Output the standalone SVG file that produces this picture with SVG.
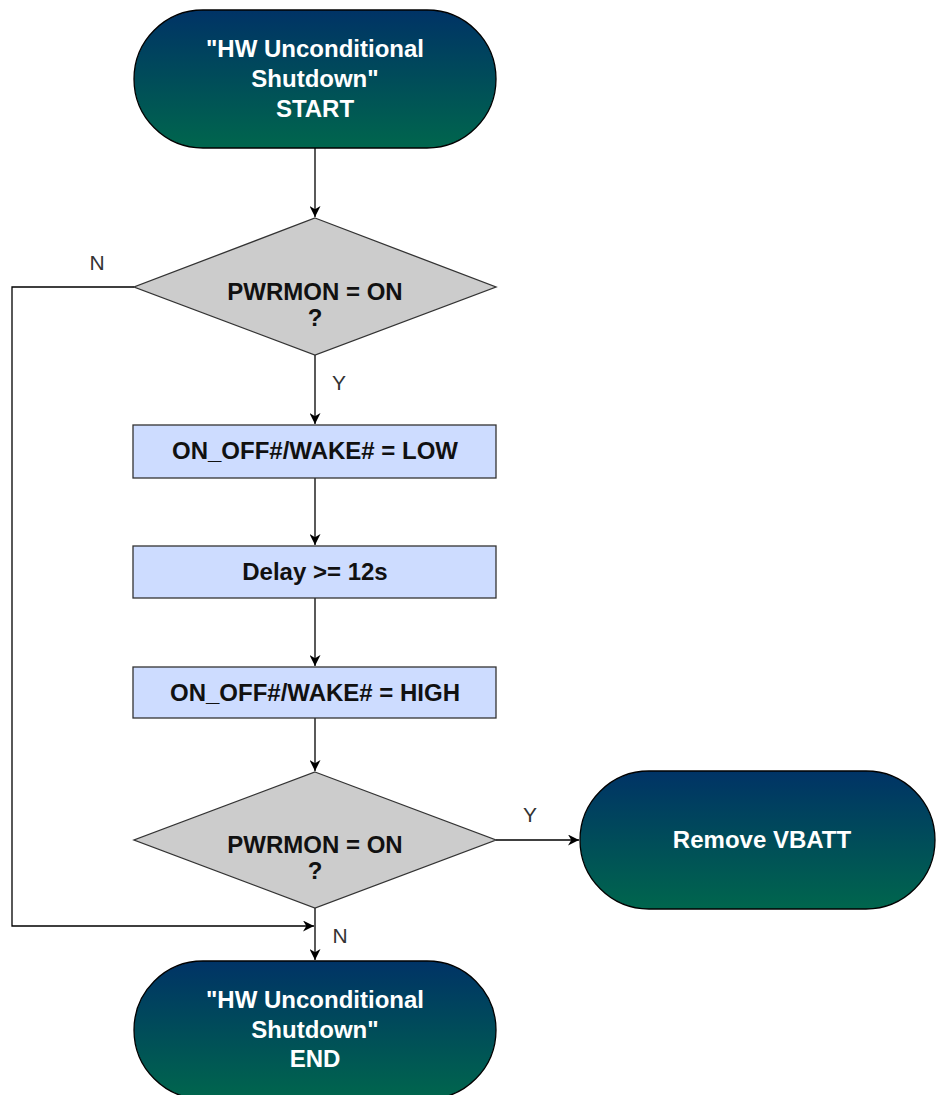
<svg xmlns="http://www.w3.org/2000/svg" width="936" height="1095" viewBox="0 0 936 1095">
<defs>
<linearGradient id="g" x1="0" y1="0" x2="0" y2="1">
<stop offset="0" stop-color="#003366"/>
<stop offset="1" stop-color="#00664d"/>
</linearGradient>
<marker id="arr" viewBox="0 0 10 10" refX="10" refY="5" markerWidth="11" markerHeight="11" markerUnits="userSpaceOnUse" orient="auto">
<path d="M0,0 L10,5 L0,10 L3,5 Z" fill="#000"/>
</marker>
<style>
.term{fill:url(#g);stroke:#000;stroke-width:1.3}
.dec{fill:#cccccc;stroke:#333;stroke-width:1.3}
.proc{fill:#cddcff;stroke:#333;stroke-width:1.3}
.wt{font-family:"Liberation Sans",Arial,sans-serif;font-weight:bold;font-size:24px;fill:#fff;text-anchor:middle}
.bt{font-family:"Liberation Sans",Arial,sans-serif;font-weight:bold;font-size:24px;fill:#111;text-anchor:middle}
.lbl{font-family:"Liberation Sans",Arial,sans-serif;font-size:21px;fill:#333;text-anchor:middle}
.c{fill:none;stroke:#000;stroke-width:1.3}
</style>
</defs>
<g id="connectors">
<path class="c" d="M315,148 V217" marker-end="url(#arr)"/>
<path class="c" d="M315,355 V424" marker-end="url(#arr)"/>
<path class="c" d="M315,478 V545" marker-end="url(#arr)"/>
<path class="c" d="M315,598 V666" marker-end="url(#arr)"/>
<path class="c" d="M315,718 V771" marker-end="url(#arr)"/>
<path class="c" d="M496,840 H579" marker-end="url(#arr)"/>
<path class="c" d="M315,908 V960" marker-end="url(#arr)"/>
<path class="c" d="M134,287 H12 V926 H314" marker-end="url(#arr)"/>
<text class="lbl" x="97" y="270">N</text>
<text class="lbl" x="339" y="390">Y</text>
<text class="lbl" x="530" y="822">Y</text>
<text class="lbl" x="340" y="943">N</text>
</g>
<g id="start">
<rect class="term" x="134" y="10" width="362" height="138" rx="69"/>
<text class="wt" x="315" y="57">"HW Unconditional</text>
<text class="wt" x="315" y="87">Shutdown"</text>
<text class="wt" x="315" y="117">START</text>
</g>
<g id="dec1">
<polygon class="dec" points="315,218 496,287 315,355 134,287"/>
<text class="bt" x="315" y="300">PWRMON = ON</text>
<text class="bt" x="315" y="326">?</text>
</g>
<g id="p1">
<rect class="proc" x="133" y="425" width="363" height="53"/>
<text class="bt" x="315" y="459">ON_OFF#/WAKE# = LOW</text>
</g>
<g id="p2">
<rect class="proc" x="133" y="546" width="363" height="52"/>
<text class="bt" x="315" y="580">Delay &gt;= 12s</text>
</g>
<g id="p3">
<rect class="proc" x="133" y="667" width="363" height="51"/>
<text class="bt" x="315" y="701">ON_OFF#/WAKE# = HIGH</text>
</g>
<g id="dec2">
<polygon class="dec" points="315,772 496,840 315,908 134,840"/>
<text class="bt" x="315" y="853">PWRMON = ON</text>
<text class="bt" x="315" y="879">?</text>
</g>
<g id="vbatt">
<rect class="term" x="580" y="771" width="355" height="138" rx="69"/>
<text class="wt" x="762" y="848">Remove VBATT</text>
</g>
<g id="end">
<rect class="term" x="134" y="961" width="362" height="138" rx="69"/>
<text class="wt" x="315" y="1008">"HW Unconditional</text>
<text class="wt" x="315" y="1038">Shutdown"</text>
<text class="wt" x="315" y="1067">END</text>
</g>
</svg>
